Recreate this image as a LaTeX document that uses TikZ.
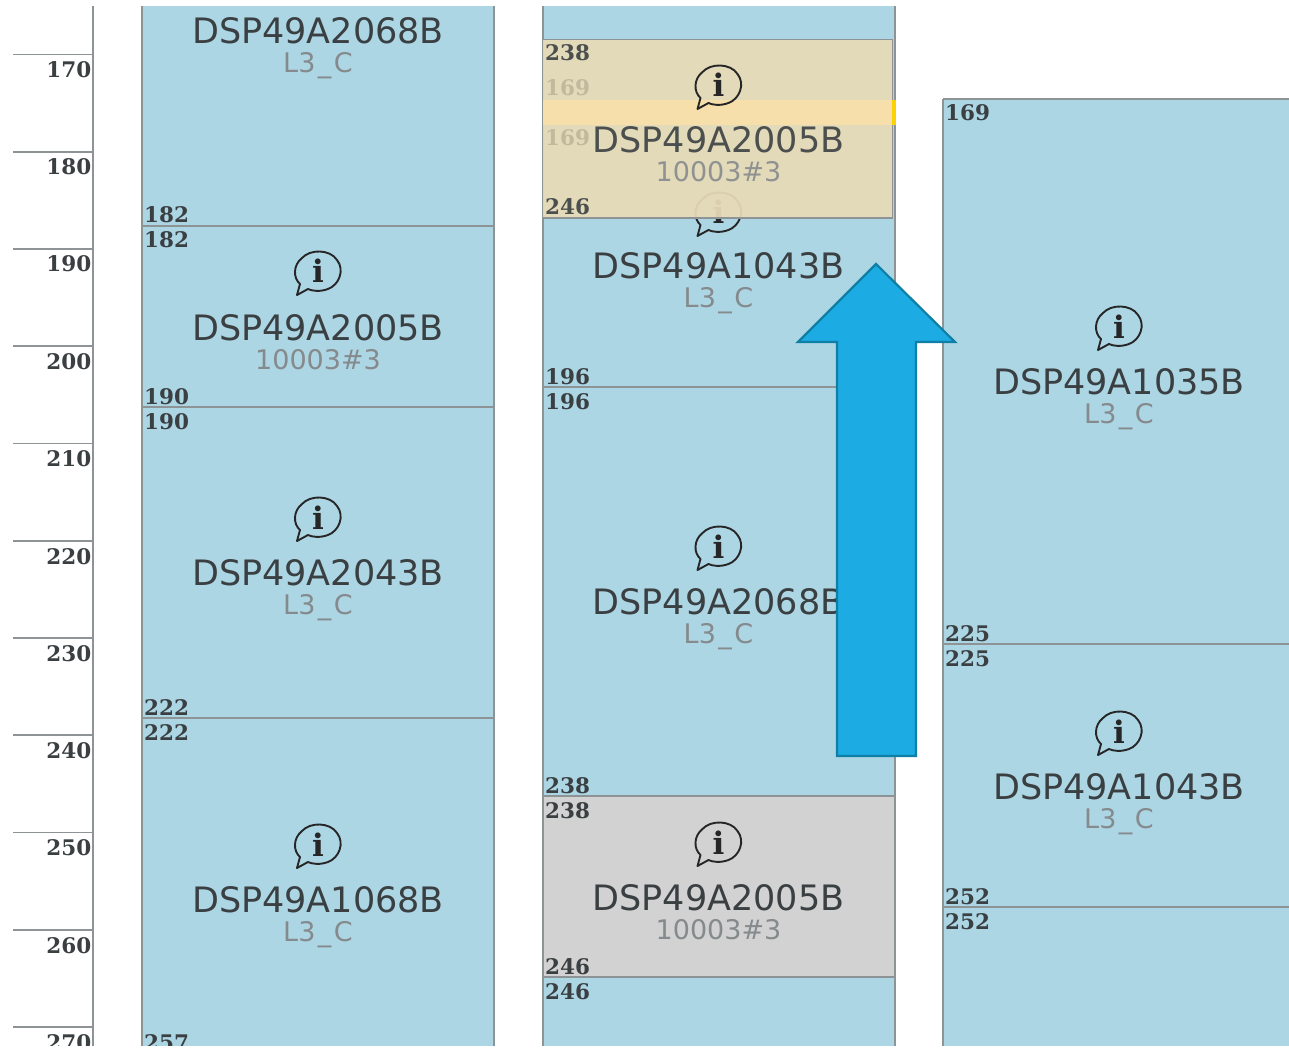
\documentclass[tikz,border=0pt]{standalone}
\usepackage{fontspec}
\setmainfont{DejaVu Sans}
\newfontfamily\numf{DejaVu Serif}
\definecolor{blk}{HTML}{ADD6E5}
\definecolor{edge}{HTML}{8E9496}
\definecolor{ovcol}{HTML}{E8DBB7}
\definecolor{stripe}{HTML}{F6DFAB}
\definecolor{grayblk}{HTML}{D2D2D2}
\definecolor{arrowfill}{HTML}{1CABE2}
\definecolor{arrowedge}{HTML}{0F7FA6}
\definecolor{nametxt}{HTML}{3A3F42}
\definecolor{subtxt}{HTML}{858A8C}
\newcommand{\lthree}{L3\kern2.5pt\_\kern2.5pt C}
\tikzset{
  blockfill/.style={fill=blk,draw=none},
  sideline/.style={draw=edge,line width=1.6pt},
  divider/.style={draw=edge,line width=1.3pt},
  tickline/.style={draw=edge,line width=1.2pt},
  nametext/.style={anchor=base,inner sep=0pt,font=\fontsize{35}{38}\selectfont,text=nametxt},
  subtext/.style={anchor=base,inner sep=0pt,font=\fontsize{27}{30}\selectfont,text=subtxt},
  numtext/.style={anchor=base west,inner sep=0pt,font=\numf\bfseries\fontsize{21.5}{24}\selectfont,text=nametxt},
  ticktext/.style={anchor=base east,inner sep=0pt,font=\numf\bfseries\fontsize{21.5}{24}\selectfont,text=nametxt},
}
% icon: #1 x, #2 y (centre), #3 colour
\newcommand{\infoicon}[3]{%
  \draw[#3,line width=1.9pt,line join=round,fill=none]
    (#1-18,#2+12) .. controls (#1-25,#2+6) and (#1-25,#2-7) .. (#1-16,#2-14)
    .. controls (#1-8,#2-23) and (#1+12,#2-23) .. (#1+19,#2-12)
    .. controls (#1+27,#2-2) and (#1+21,#2+13) .. (#1+10,#2+17)
    .. controls (#1+2,#2+20) and (#1-6,#2+19) .. (#1-10,#2+17)
    -- (#1-21,#2+23) -- cycle;
  \node[anchor=base,inner sep=0pt,text=#3,font=\numf\bfseries\fontsize{31}{32}\selectfont] at (#1,#2+11) {i};
}
\begin{document}
\begin{tikzpicture}[x=1pt,y=-1pt]
\useasboundingbox (0,0) rectangle (1289,1048);
\begin{scope}
\clip (0,7) rectangle (1289,1045);
% ruler
\draw[sideline] (93,0) -- (93,1048);
\foreach \yy/\lab in {54.5/170,152/180,249/190,346/200,443.5/210,541/220,638/230,735/240,832.5/250,930/260,1027/270}{
  \draw[tickline] (13,\yy) -- (93,\yy);
  \node[ticktext] at (91.5,\yy+23) {\lab};
}
% column 1
\fill[blockfill] (142,0) rectangle (494,1048);
\draw[sideline] (142,0) -- (142,1048);
\draw[sideline] (494,0) -- (494,1048);
\foreach \yy in {226,407,718}{\draw[divider] (142,\yy) -- (494,\yy);}
\node[nametext] (a1) at (318,44) {DSP49A2068B};
\node[subtext] (a1s) at (318,73) {\lthree};
\node[numtext] at (144,223) {182};
\node[numtext] at (144,248) {182};
\infoicon{318}{272}{black!85}
\node[nametext] (a2) at (318,340) {DSP49A2005B};
\node[subtext] (a2s) at (318,369) {10003\#3};
\node[numtext] at (144,404) {190};
\node[numtext] at (144,429) {190};
\infoicon{318}{518}{black!85}
\node[nametext] (a3) at (318,585) {DSP49A2043B};
\node[subtext] (a3s) at (318,614) {\lthree};
\node[numtext] at (144,715) {222};
\node[numtext] at (144,740) {222};
\infoicon{318}{845}{black!85}
\node[nametext] (a4) at (318,912) {DSP49A1068B};
\node[subtext] (a4s) at (318,941) {\lthree};
\node[numtext] at (144,1050) {257};
% column 2
\fill[blockfill] (543,0) rectangle (895,1048);
\fill[grayblk] (543,796) rectangle (895,977);
\draw[sideline] (543,0) -- (543,1048);
\draw[sideline] (895,0) -- (895,1048);
\foreach \yy in {387,796,977}{\draw[divider] (543,\yy) -- (895,\yy);}
\infoicon{718.5}{213}{black!85}
\node[nametext] (b2) at (718.5,279) {DSP49A1043B};
\node[subtext] (b2s) at (718.5,308) {\lthree};
\node[numtext] at (545,384) {196};
\node[numtext] at (545,409) {196};
\infoicon{718.5}{547}{black!85}
\node[nametext] (b3) at (718.5,614) {DSP49A2068B};
\node[subtext] (b3s) at (718.5,643) {\lthree};
\node[numtext] at (545,793) {238};
\node[numtext] at (545,818) {238};
\infoicon{718.5}{843}{black!85}
\node[nametext] (b4) at (718.5,910) {DSP49A2005B};
\node[subtext] (b4s) at (718.5,939) {10003\#3};
\node[numtext] at (545,974) {246};
\node[numtext] at (545,999) {246};
% translucent dragged block
\fill[ovcol,fill opacity=.93] (543,39) rectangle (892,218);
\draw[edge,line width=1.3pt] (543,39.5) -- (892.5,39.5) -- (892.5,218) -- (543,218);
\fill[stripe] (543,100) rectangle (892,125);
\fill[yellow!70!orange] (892,100) rectangle (896,125);
\node[numtext,text=nametxt!22!ovcol] at (545,96) {169};
\node[numtext,text=nametxt!22!ovcol] at (545,146) {169};
\node[numtext,text=nametxt!90!ovcol] at (545,61) {238};
\infoicon{718.5}{86}{black!85}
\node[nametext,text=nametxt!90!ovcol] (b1) at (718.5,153) {DSP49A2005B};
\node[subtext,text=subtxt!90!ovcol] (b1s) at (718.5,182) {10003\#3};
\node[numtext,text=nametxt!90!ovcol] at (545,215) {246};
% column 3
\fill[blockfill] (943,99) rectangle (1289,1048);
\draw[sideline] (943,99) -- (943,1048);
\draw[divider] (943,99) -- (1289,99);
\foreach \yy in {644,907}{\draw[divider] (943,\yy) -- (1289,\yy);}
\node[numtext] at (945,121) {169};
\infoicon{1119}{327}{black!85}
\node[nametext] (c1) at (1119,394) {DSP49A1035B};
\node[subtext] (c1s) at (1119,423) {\lthree};
\node[numtext] at (945,641) {225};
\node[numtext] at (945,666) {225};
\infoicon{1119}{732}{black!85}
\node[nametext] (c2) at (1119,799) {DSP49A1043B};
\node[subtext] (c2s) at (1119,828) {\lthree};
\node[numtext] at (945,904) {252};
\node[numtext] at (945,929) {252};
\end{scope}
% big arrow
\draw[arrowedge,fill=arrowfill,line width=2.2pt,line join=miter]
  (876,264) -- (955,342) -- (916,342) -- (916,756) -- (837,756) -- (837,342) -- (798,342) -- cycle;
\end{tikzpicture}
\end{document}
